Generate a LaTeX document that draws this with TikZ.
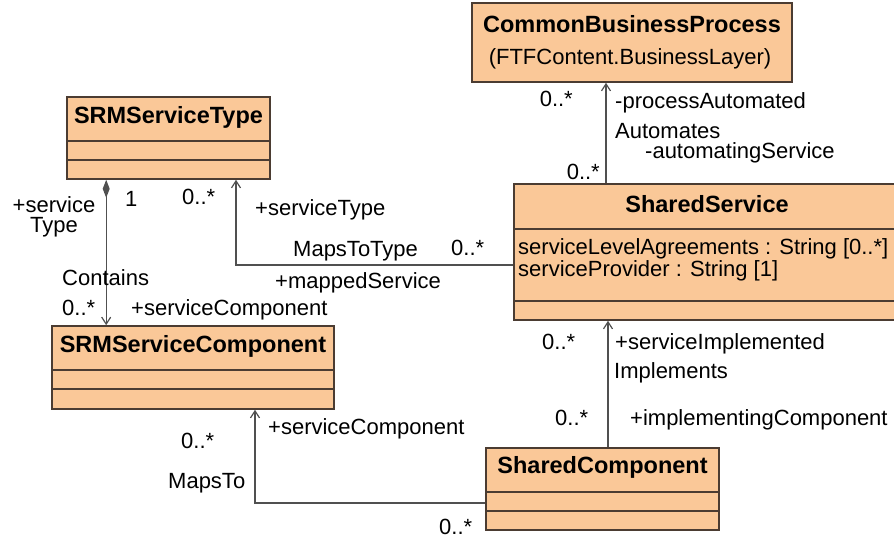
\documentclass[tikz,border=0pt]{standalone}
\usepackage{fontspec}
\setmainfont{Liberation Sans}
\usetikzlibrary{arrows.meta,positioning}

\definecolor{classfill}{RGB}{250,200,152}
\definecolor{classdraw}{RGB}{75,60,50}
\definecolor{linkgray}{RGB}{80,80,80}

\tikzset{
  classbox/.style={draw=classdraw, fill=classfill, line width=1.6pt, inner sep=0pt},
  classline/.style={draw=classdraw, line width=1.6pt},
  ctitle/.style={font=\fontsize{23.5}{28}\selectfont\bfseries, inner sep=0pt},
  lbl/.style={font=\fontsize{22}{20}\selectfont, inner sep=0pt, text height=16pt, text depth=4pt},
  assoc/.style={draw=linkgray, line width=1.4pt, -{Straight Barb[length=7pt,width=9pt,line width=1.2pt]}},
  compo/.style={draw=linkgray, line width=1.4pt,
    {Diamond[length=18pt,width=7pt]}-{Straight Barb[length=7pt,width=9pt,line width=1.2pt]}}
}

\newcommand{\classrows}[1]{%
  \draw[classline] ([yshift=-45pt]#1.north west) -- ([yshift=-45pt]#1.north east);
  \draw[classline] ([yshift=-64pt]#1.north west) -- ([yshift=-64pt]#1.north east);
}

\begin{document}
\begin{tikzpicture}[x=1pt, y=-1pt]
    \useasboundingbox (0,0) rectangle (894,538);

    % classes
    \node[classbox, minimum width=320pt, minimum height=79pt] (cbp) at (632,42.5) {};
    \node[ctitle] (cbptitle) at (632,24) {CommonBusinessProcess};
    \node[lbl] (cbpsub) at (630,58) {(FTFContent.BusinessLayer)};

    \node[classbox, minimum width=203pt, minimum height=82pt] (st) at (168.5,138) {};
    \node[ctitle] (sttitle) at ([yshift=-21pt]st.north) {SRMServiceType};
    \classrows{st}

    \node[classbox, minimum width=282pt, minimum height=83pt] (sc) at (193,367.5) {};
    \node[ctitle] (sctitle) at ([yshift=-21pt]sc.north) {SRMServiceComponent};
    \classrows{sc}

    \node[classbox, minimum width=386pt, minimum height=136pt] (ss) at (707,252) {};
    \node[ctitle] (sstitle) at ([yshift=-21pt]ss.north) {SharedService};
    \draw[classline] ([yshift=-46pt]ss.north west) -- ([yshift=-46pt]ss.north east);
    \draw[classline] ([yshift=-118pt]ss.north west) -- ([yshift=-118pt]ss.north east);
    \node[lbl, anchor=west, align=left, text height=, text depth=] (ssattr) at (518,260)
        {serviceLevelAgreements : String [0..*]\\serviceProvider : String [1]};

    \node[classbox, minimum width=233pt, minimum height=82pt] (shc) at (602.5,489) {};
    \node[ctitle] (shctitle) at ([yshift=-20pt]shc.north) {SharedComponent};
    \classrows{shc}

    % bend points
    \coordinate (mtt) at (236,265);
    \coordinate (mt) at (255,503);
    \coordinate (aut) at (606,130);
    \coordinate (impl) at (608,380);

    % connectors
    \draw[compo] ([xshift=40pt]st.south west) -- ([xshift=55pt]sc.north west);
    \draw[assoc] (ss.west |- mtt) -- (mtt) -- (st.south -| mtt);
    \draw[assoc] (ss.north -| aut) -- (cbp.south -| aut);
    \draw[assoc] (shc.north -| impl) -- (ss.south -| impl);
    \draw[assoc] (shc.west |- mt) -- (mt) -- (sc.south -| mt);

    % Automates
    \node[lbl, anchor=east] (autm1) at (573,100) {0..*};
    \node[lbl, anchor=west] (autr1) at (615,102) {-processAutomated};
    \node[lbl, anchor=west] (autn) at (615,132) {Automates};
    \node[lbl, anchor=west] (autr2) at (645,152) {-automatingService};
    \node[lbl, anchor=east] (autm2) at (600,173) {0..*};

    % Contains
    \node[lbl, align=center, text height=, text depth=] (conr1) at (54,217) {+service\\Type};
    \node[lbl, anchor=west] (conm1) at (125,200) {1};
    \node[lbl, anchor=west] (conn) at (62,279) {Contains};
    \node[lbl, anchor=west] (conm2) at (62,309) {0..*};
    \node[lbl, anchor=west] (conr2) at (131,309) {+serviceComponent};

    % MapsToType
    \node[lbl, anchor=west] (mttm1) at (182,198) {0..*};
    \node[lbl, anchor=west] (mttr1) at (255,209) {+serviceType};
    \node[lbl, anchor=west] (mttn) at (293,250) {MapsToType};
    \node[lbl, anchor=west] (mttm2) at (451,249) {0..*};
    \node[lbl, anchor=west] (mttr2) at (275,282) {+mappedService};

    % Implements
    \node[lbl, anchor=west] (implm1) at (542,343) {0..*};
    \node[lbl, anchor=west] (implr1) at (615,343) {+serviceImplemented};
    \node[lbl, anchor=west] (impln) at (614,372) {Implements};
    \node[lbl, anchor=west] (implm2) at (555,419) {0..*};
    \node[lbl, anchor=west] (implr2) at (630,419) {+implementingComponent};

    % MapsTo
    \node[lbl, anchor=west] (mtr1) at (268,428) {+serviceComponent};
    \node[lbl, anchor=west] (mtm1) at (181,442) {0..*};
    \node[lbl, anchor=west] (mtn) at (168,482) {MapsTo};
    \node[lbl, anchor=west] (mtm2) at (439,528) {0..*};
\end{tikzpicture}
\end{document}
